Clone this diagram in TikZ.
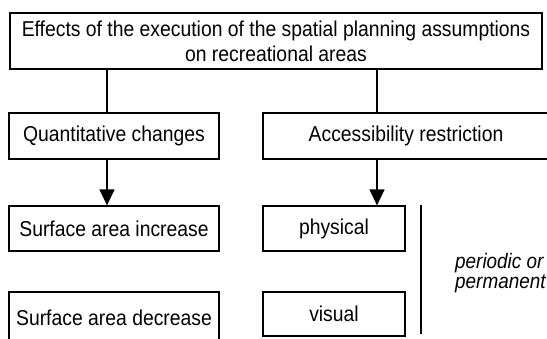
\documentclass[tikz,border=0pt]{standalone}
\usepackage{fontspec}
\setmainfont[FakeStretch=0.9]{Liberation Sans}
\usetikzlibrary{arrows.meta}
\begin{document}
\begin{tikzpicture}[x=1pt,y=-1pt,
  box/.style={draw,line width=1.2pt,rectangle,inner sep=0pt,align=center,
    font=\fontsize{21.5}{25}\selectfont},
  conn/.style={line width=1.2pt},
  arr/.style={line width=1.2pt,-{Triangle[length=16pt,width=15pt]}}]
\useasboundingbox (0,0) rectangle (547,338);
\node[box,minimum width=532pt,minimum height=56pt] (top) at (276,41)
  {Effects of the execution of the spatial planning assumptions\\on recreational areas};
\node[box,minimum width=210pt,minimum height=46pt] (q) at (114,136) {Quantitative changes};
\node[box,minimum width=286pt,minimum height=46pt] (acc) at (406,136) {Accessibility restriction};
\node[box,minimum width=210pt,minimum height=45pt] (inc) at (114,228.5) {Surface area increase};
\node[box,minimum width=142pt,minimum height=45pt] (phys) at (334,228.5) {physical};
\node[box,minimum width=210pt,minimum height=52pt] (dec) at (114,318) {Surface area decrease};
\node[box,minimum width=142pt,minimum height=44pt] (vis) at (334,314) {visual};
\node[anchor=west,align=left,inner sep=0pt,font=\fontsize{21}{20}\selectfont\itshape] (per) at (455,273)
  {periodic or\\permanent};
\coordinate (c1) at ([xshift=-7pt]q.north);
\coordinate (c2) at ([xshift=-29pt]acc.north);
\coordinate (a1) at ([xshift=-7pt]q.south);
\coordinate (a2) at ([xshift=-29pt]acc.south);
\coordinate (vt) at (421,205);
\coordinate (vb) at (421,334);
\draw[conn] (c1 |- top.south) -- (c1);
\draw[conn] (c2 |- top.south) -- (c2);
\draw[arr] (a1) -- (a1 |- inc.north);
\draw[arr] (a2) -- (a2 |- phys.north);
\draw[conn] (vt) -- (vb);
\end{tikzpicture}
\end{document}
